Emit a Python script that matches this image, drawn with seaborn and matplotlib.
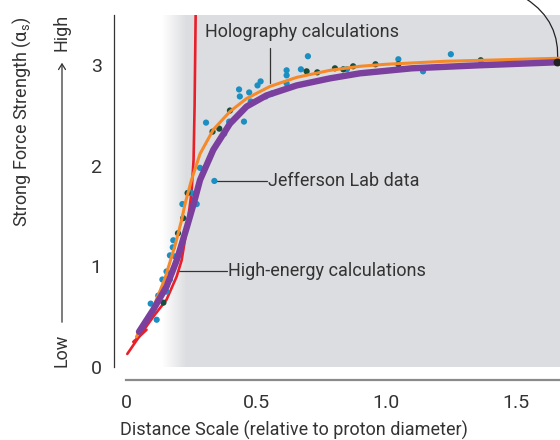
import numpy as np
import matplotlib; matplotlib.use('Agg')
import matplotlib.pyplot as plt
import seaborn as sns

sns.set_style('white')
plt.rcParams['font.family'] = ['Roboto', 'DejaVu Sans']
plt.rcParams['mathtext.default'] = 'regular'

# ── Data ──────────────────────────────────────────────────
red_x = [0.005, 0.05, 0.105, 0.156, 0.195, 0.214, 0.233, 0.252, 0.26, 0.264, 0.268]
red_y = [0.13, 0.30, 0.50, 0.67, 0.90, 1.06, 1.36, 1.73, 2.06, 2.6, 3.5]
red2_x = [0.028, 0.05, 0.079]
red2_y = [0.25, 0.30, 0.37]

orange_x = [0.04, 0.10, 0.15, 0.19, 0.214, 0.227, 0.252, 0.285, 0.336, 0.40, 0.464,
            0.554, 0.657, 0.785, 0.90, 1.0, 1.23, 1.67]
orange_y = [0.30, 0.56, 0.88, 1.22, 1.46, 1.62, 1.86, 2.12, 2.36, 2.54, 2.67,
            2.79, 2.88, 2.95, 2.99, 3.01, 3.04, 3.07]

purple_x = [0.05, 0.105, 0.156, 0.195, 0.233, 0.26, 0.285, 0.336, 0.40, 0.464, 0.54,
            0.657, 0.785, 0.90, 1.1, 1.36, 1.66]
purple_y = [0.35, 0.57, 0.80, 1.06, 1.38, 1.62, 1.86, 2.16, 2.42, 2.59, 2.70,
            2.80, 2.87, 2.92, 2.97, 3.00, 3.03]

jlab_x = [0.118, 0.095, 0.124, 0.156, 0.14, 0.169, 0.156, 0.169, 0.188, 0.18, 0.182,
          0.217, 0.252, 0.272, 0.285, 0.34, 0.308, 0.378, 0.397, 0.435, 0.438, 0.454,
          0.474, 0.48, 0.506, 0.518, 0.538, 0.562, 0.618, 0.618, 0.618, 0.673, 0.70,
          0.85, 1.048, 1.143, 1.25]
jlab_y = [0.47, 0.63, 0.71, 0.75, 0.87, 0.87, 0.95, 1.11, 1.10, 1.19, 1.26,
          1.62, 1.73, 1.62, 1.98, 1.85, 2.43, 2.32, 2.44, 2.76, 2.69, 2.44,
          2.73, 2.64, 2.80, 2.84, 2.69, 2.72, 2.95, 2.90, 2.82, 2.96, 3.09,
          2.96, 3.06, 2.94, 3.11]
# points sitting on the orange curve look dark
dark_x = [0.144, 0.20, 0.22, 0.237, 0.333, 0.359, 0.40, 0.695, 0.736, 0.804, 0.836,
          0.874, 0.96, 1.048, 1.365]
dark_y = [0.64, 1.33, 1.48, 1.73, 2.34, 2.37, 2.55, 2.94, 2.93, 2.97, 2.96,
          2.99, 3.01, 3.01, 3.05]

xticks = [0, 0.5, 1.0, 1.5]
xticklabels = ['0', '0.5', '1.0', '1.5']
yticks = [0, 1, 2, 3]

TXT = '#333333'
FS = 13
fig = plt.figure(figsize=(5.6, 4.4), dpi=100)
ax = fig.add_axes([126/560, 73/440, 434/560, 352/440])
ax.set_xlim(0, 1.67); ax.set_ylim(0, 3.5)

# gray region with soft left edge
gray = np.array([220, 221, 224]) / 255
ax.axvspan(0.235, 1.7, color=gray, lw=0, zorder=0)
grad = np.linspace(0, 1, 64)[None, :, None]
img = np.ones((1, 64, 3)) * (1 - grad) + gray[None, None, :] * grad
ax.imshow(img, extent=[0.14, 0.236, 0, 3.5], aspect='auto', zorder=0, interpolation='bilinear')

sns.lineplot(x=red_x, y=red_y, color='#e8202a', lw=1.9, sort=False, ax=ax, zorder=3)
sns.lineplot(x=red2_x, y=red2_y, color='#e8202a', lw=1.9, sort=False, ax=ax, zorder=3)
sns.scatterplot(x=jlab_x, y=jlab_y, color='#1b8ec2', s=20, edgecolor='none', ax=ax, zorder=4)
sns.scatterplot(x=dark_x, y=dark_y, color='#174d3b', s=20, edgecolor='none', ax=ax, zorder=4)
sns.lineplot(x=orange_x, y=orange_y, color='#f58a2a', lw=2.2, sort=False, ax=ax, zorder=5)
sns.lineplot(x=purple_x, y=purple_y, color='#7b3f9e', lw=4.6, sort=False, ax=ax, zorder=6)
ax.scatter([purple_x[-1]], [purple_y[-1]], s=22, color='#222222', zorder=7)

# labels with leader lines
ax.plot([0.554, 0.554], [2.82, 3.17], color=TXT, lw=0.9, zorder=7)
ax.text(0.304, 3.33, 'Holography calculations', fontsize=FS, color=TXT, va='center')
ax.plot([0.34, 0.543], [1.85, 1.85], color=TXT, lw=0.9, zorder=3)
ax.text(0.546, 1.85, 'Jefferson Lab data', fontsize=FS, color=TXT, va='center')
ax.plot([0.196, 0.39], [0.955, 0.955], color=TXT, lw=0.9, zorder=2)
ax.text(0.392, 0.955, 'High-energy calculations', fontsize=FS, color=TXT, va='center')
ax.annotate('', xy=(purple_x[-1], purple_y[-1]), xytext=(1.54, 3.66),
            arrowprops=dict(arrowstyle='-', color='#222222', lw=0.9,
                            connectionstyle='arc3,rad=-0.3', shrinkA=0, shrinkB=0),
            annotation_clip=False)

# axes styling
for s in ['top', 'right']:
    ax.spines[s].set_visible(False)
ax.spines['left'].set_position(('outward', 8.6))
ax.spines['left'].set_color(TXT); ax.spines['left'].set_linewidth(0.9)
ax.spines['bottom'].set_position(('outward', 9.4))
ax.spines['bottom'].set_color('#8a8a8a'); ax.spines['bottom'].set_linewidth(1.6)
ax.spines['bottom'].set_bounds(0, 1.7)
ax.set_xticks(xticks); ax.set_xticklabels(xticklabels)
ax.set_yticks(yticks)
ax.tick_params(axis='y', length=7, width=0.8, color=TXT, labelsize=14, labelcolor=TXT, pad=2)
ax.tick_params(axis='x', length=6, width=0.8, color='#8a8a8a', labelsize=14, labelcolor=TXT, pad=4)
ax.set_xlabel('')
ax.set_ylabel('')

fig.text(120/560, 1 - 430/440, 'Distance Scale (relative to proton diameter)',
         fontsize=FS, color=TXT, ha='left', va='center')
fig.text(22/560, 1 - 122/440, r'Strong Force Strength ($\alpha_s$)', rotation=90,
         fontsize=FS, color=TXT, ha='center', va='center')
fig.text(62/560, 1 - 32/440, 'High', rotation=90, fontsize=FS, color=TXT, ha='center', va='center')
fig.text(62/560, 1 - 350/440, 'Low', rotation=90, fontsize=FS, color=TXT, ha='center', va='center')
fig.add_artist(matplotlib.patches.FancyArrowPatch((62/560, 1 - 325/440), (62/560, 1 - 60/440),
               transform=fig.transFigure, arrowstyle='->,head_length=4,head_width=2.5',
               color=TXT, lw=0.9, mutation_scale=1))

fig.savefig('out.png', dpi=100)
